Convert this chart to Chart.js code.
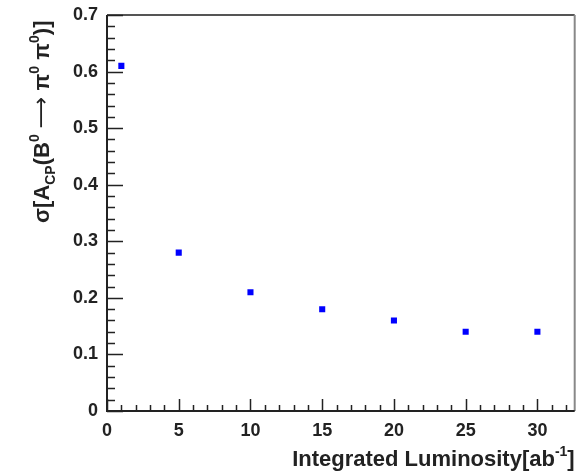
<!DOCTYPE html>
<html>
<head>
<meta charset="utf-8">
<script src="https://cdn.jsdelivr.net/npm/chart.js@4"></script>
<style>
  html, body { margin: 0; padding: 0; background: #fff; }
  #wrap { width: 579px; height: 472px; }
</style>
</head>
<body>
<div id="wrap"><canvas id="myChart" width="579" height="472"></canvas></div>
<script>
// data
const luminosity = [1, 5, 10, 15, 20, 25, 30];
const sigmaAcp = [0.61, 0.28, 0.21, 0.18, 0.16, 0.14, 0.14];
const xTicks = [0, 5, 10, 15, 20, 25, 30];
const yTicks = [0, 0.1, 0.2, 0.3, 0.4, 0.5, 0.6, 0.7];

const fontFamily = '"Liberation Sans", Arial, sans-serif';
const textColor = '#222';

// ROOT style frame, inside ticks and titles with sub/superscripts
const rootFrame = {
  id: 'rootFrame',
  afterDraw(chart) {
    const ctx = chart.ctx;
    const a = chart.chartArea;
    const xs = chart.scales.x, ys = chart.scales.y;
    ctx.save();

    // frame
    ctx.strokeStyle = '#555';
    ctx.lineWidth = 2;
    ctx.beginPath(); ctx.moveTo(a.left, a.top); ctx.lineTo(a.right, a.top); ctx.stroke();
    ctx.strokeStyle = '#888';
    ctx.beginPath(); ctx.moveTo(a.right, a.top); ctx.lineTo(a.right, a.bottom); ctx.stroke();
    ctx.strokeStyle = '#222';
    ctx.beginPath(); ctx.moveTo(a.left, a.top); ctx.lineTo(a.left, a.bottom); ctx.lineTo(a.right, a.bottom); ctx.stroke();

    // ticks
    ctx.lineWidth = 1.5;
    ctx.beginPath();
    for (let i = 0; i <= 35; i++) {
      const v = i * 0.02;
      if (v > ys.max + 1e-9) break;
      const py = Math.round(ys.getPixelForValue(v)) + 0.5;
      const len = i % 5 === 0 ? 16 : 8;
      ctx.moveTo(a.left, py); ctx.lineTo(a.left + len, py);
    }
    for (let i = 0; i <= xs.max; i++) {
      const px = Math.round(xs.getPixelForValue(i)) + 0.5;
      const len = i % 5 === 0 ? 12 : 6;
      ctx.moveTo(px, a.bottom); ctx.lineTo(px, a.bottom - len);
    }
    ctx.stroke();

    // x title
    ctx.fillStyle = textColor;
    ctx.textBaseline = 'alphabetic';
    const big = 'bold 22px ' + fontFamily;
    const small = 'bold 14px ' + fontFamily;
    const arrow = '22px "DejaVu Sans", sans-serif';
    const xParts = [['Integrated Luminosity[ab', big, 0], ['-1', small, -10], [']', big, 0]];
    let w = 0;
    xParts.forEach(p => { ctx.font = p[1]; w += ctx.measureText(p[0]).width; });
    let cx = a.right - w;
    xParts.forEach(p => { ctx.font = p[1]; ctx.fillText(p[0], cx, 466 + p[2]); cx += ctx.measureText(p[0]).width; });

    // y title, rotated
    ctx.translate(49, 223);
    ctx.rotate(-Math.PI / 2);
    const yParts = [['σ[A', big, 0], ['CP', small, 6], ['(B', big, 0], ['0', small, -10],
      [' ', big, 0], ['⟶', arrow, -1], [' π', big, 0], ['0', small, -10], [' π', big, 0], ['0', small, -10], [')]', big, 0]];
    cx = 0;
    yParts.forEach(p => { ctx.font = p[1]; ctx.fillText(p[0], cx, p[2]); cx += ctx.measureText(p[0]).width; });
    ctx.restore();
  }
};

const data = {
  datasets: [{
    label: 'sigma A_CP',
    data: luminosity.map((x, i) => ({x: x, y: sigmaAcp[i]})),
    backgroundColor: '#0000ff',
    borderColor: '#0000ff',
    borderWidth: 0,
    pointStyle: 'rect',
    pointRadius: 4.3,
    showLine: false
  }]
};

const config = {
  type: 'scatter',
  data,
  options: {
    responsive: false,
    animation: false,
    layout: { padding: { left: 0, top: 15, right: 1, bottom: 0 } },
    plugins: { legend: { display: false }, tooltip: { enabled: false } },
    scales: {
      x: {
        type: 'linear',
        min: 0,
        max: 32.6,
        afterBuildTicks: s => { s.ticks = xTicks.map(v => ({value: v})); },
        afterFit: s => { s.height = 61; },
        grid: { display: false },
        border: { display: false },
        ticks: { font: { family: fontFamily, size: 18, weight: 'bold' }, color: textColor, padding: 1, maxRotation: 0 }
      },
      y: {
        min: 0,
        max: 0.7,
        afterBuildTicks: s => { s.ticks = yTicks.map(v => ({value: v})); },
        afterFit: s => { s.width = 107; },
        grid: { display: false },
        border: { display: false },
        ticks: {
          font: { family: fontFamily, size: 18, weight: 'bold' },
          color: textColor,
          padding: 1,
          callback: v => v === 0 ? '0' : v.toFixed(1)
        }
      }
    }
  },
  plugins: [rootFrame]
};

const myChart = new Chart(document.getElementById('myChart'), config);
</script>
</body>
</html>
